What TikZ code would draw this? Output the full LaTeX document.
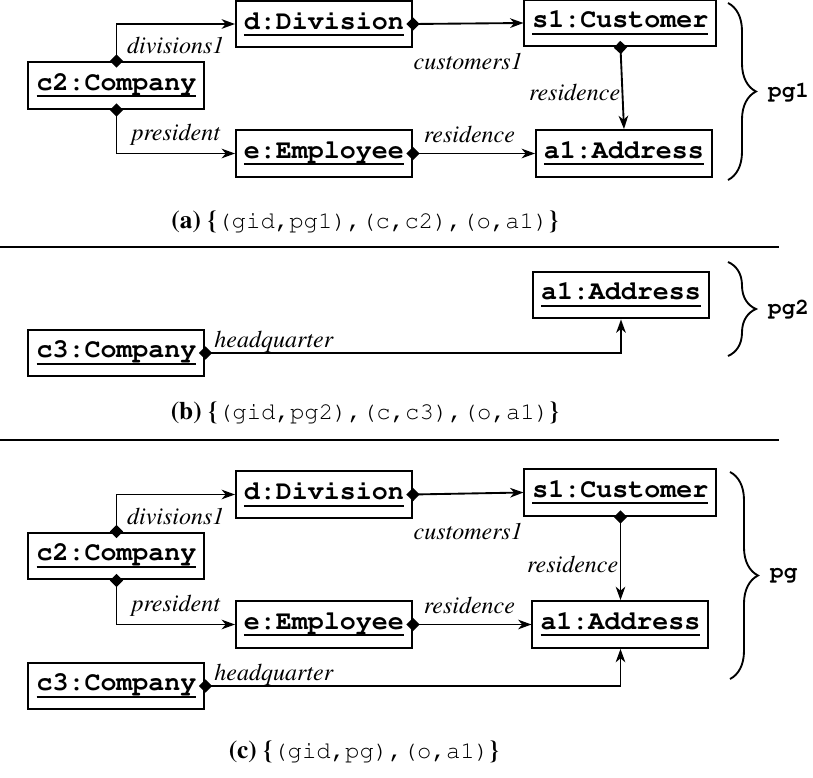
\documentclass[tikz,border=0pt]{standalone}
\usepackage[T1]{fontenc}
\usepackage{times}
\usetikzlibrary{arrows.meta,decorations.pathreplacing}

\newcommand{\uobj}[1]{\setbox0=\hbox{#1}\rlap{\copy0}\rule[-2.6pt]{\wd0}{0.8pt}}

\begin{document}
\begin{tikzpicture}[x=0.375pt, y=-0.375pt,
	obj/.style={draw, line width=0.75pt, inner xsep=3pt, inner ysep=0pt, minimum height=17.6pt, font=\fontsize{10}{12}\selectfont\ttfamily\bfseries},
	link/.style={line width=0.7pt, {Diamond[length=5pt,width=5pt]}-{Stealth[length=5pt,width=3.6pt,inset=1.5pt]}, shorten <=-2.5pt},
	role/.style={font=\fontsize{9}{11}\selectfont\itshape, inner sep=1pt},
	brc/.style={decorate, decoration={brace, amplitude=10.5pt}, line width=0.7pt},
	gname/.style={anchor=west, inner sep=1pt, font=\fontsize{8.5}{10}\selectfont\ttfamily\bfseries},
	captext/.style={font=\fontsize{9.5}{11}\selectfont},
	sepline/.style={line width=0.8pt}]
	\useasboundingbox (0,0) rectangle (813,778);
	
	% 1. (a) pg1
	\node[obj] (c2a) at (116.5,85.5) {\uobj{c2:Company}};
	\node[obj] (da) at (324,24) {\uobj{d:Division}};
	\node[obj] (ea) at (324,153.5) {\uobj{e:Employee}};
	\node[obj] (s1a) at (620.5,23) {\uobj{s1:Customer}};
	\node[obj] (a1a) at (624,153.5) {\uobj{a1:Address}};
	\draw[link] (c2a.north) |- (da.west) node[role, pos=0.75, below=3.7pt] {divisions1};
	\draw[link] (c2a.south) |- (ea.west) node[role, pos=0.75, above=1.5pt] {president};
	\draw[link] (da.east) -- (s1a.west) node[role, midway, below=9.8pt] {customers1};
	\draw[link] (s1a.south) -- (a1a.north) node[role, pos=0.55, left, inner sep=0.5pt] {residence};
	\draw[link] (ea.east) -- (a1a.west) node[role, pos=0, above right=2.75pt] {residence};
	\coordinate (ta) at (728,3);
	\coordinate (ba) at (728,180);
	\draw[brc] (ta) -- (ba);
	\node[gname] (pga) at (765,91.5) {pg1};
	\node[captext] (capa) at (365,222) {\textbf{(a) \{}{\ttfamily\fontsize{9}{11}\selectfont(gid,pg1),(c,c2),(o,a1)}\textbf{\}}};
	
	% 2. 分隔线
	\draw[sepline] (0,247) -- (779,247);
	\draw[sepline] (0,440) -- (779,440);
	
	% 3. (b) pg2
	\node[obj] (a1b) at (621,295) {\uobj{a1:Address}};
	\node[obj] (c3b) at (116.5,353) {\uobj{c3:Company}};
	\draw[link] (c3b.east) -| (a1b.south) node[role, pos=0, anchor=south west, xshift=2pt, yshift=-1pt] {headquarter};
	\coordinate (tb) at (728,262);
	\coordinate (bb) at (728,356);
	\draw[brc] (tb) -- (bb);
	\node[gname] (pgb) at (765,309) {pg2};
	\node[captext] (capb) at (365,413) {\textbf{(b) \{}{\ttfamily\fontsize{9}{11}\selectfont(gid,pg2),(c,c3),(o,a1)}\textbf{\}}};
	
	% 4. (c) pg
	\node[obj] (c2c) at (116.5,556) {\uobj{c2:Company}};
	\node[obj] (dc) at (324,494.5) {\uobj{d:Division}};
	\node[obj] (ec) at (324,624.5) {\uobj{e:Employee}};
	\node[obj] (s1c) at (620.5,492.5) {\uobj{s1:Customer}};
	\node[obj] (a1c) at (620.5,624.5) {\uobj{a1:Address}};
	\node[obj] (c3c) at (116.5,686) {\uobj{c3:Company}};
	\draw[link] (c2c.north) |- (dc.west) node[role, pos=0.75, below=3.7pt] {divisions1};
	\draw[link] (c2c.south) |- (ec.west) node[role, pos=0.75, above=1.5pt] {president};
	\draw[link] (dc.east) -- (s1c.west) node[role, midway, below=9.8pt] {customers1};
	\draw[link] (s1c.south) -- (a1c.north) node[role, pos=0.57, left, inner sep=0.5pt] {residence};
	\draw[link] (ec.east) -- (a1c.west) node[role, pos=0, above right=2.75pt] {residence};
	\draw[link] (c3c.east) -| (a1c.south) node[role, pos=0, anchor=south west, xshift=2pt, yshift=-1pt] {headquarter};
	\coordinate (tc) at (730,472);
	\coordinate (bc) at (730,679);
	\draw[brc] (tc) -- (bc);
	\node[gname] (pgc) at (767,575) {pg};
	\node[captext] (capc) at (364,752) {\textbf{(c) \{}{\ttfamily\fontsize{9}{11}\selectfont(gid,pg),(o,a1)}\textbf{\}}};
\end{tikzpicture}
\end{document}
